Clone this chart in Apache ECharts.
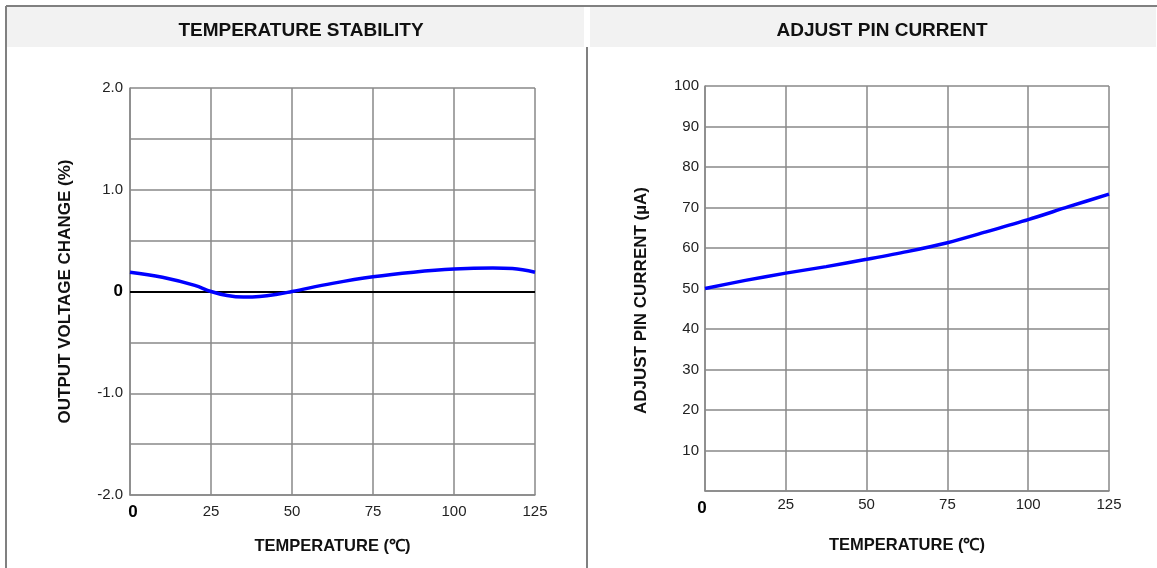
<!DOCTYPE html>
<html>
<head>
<meta charset="utf-8">
<script src="https://cdn.jsdelivr.net/npm/echarts@6/dist/echarts.min.js"></script>
<style>html,body{margin:0;padding:0;background:#fff;}#c{width:1157px;height:568px;}</style>
</head>
<body>
<div id="c"></div>
<script>
// Left: Temperature stability
var tempStabX = [0, 10, 20, 25, 30, 35, 40, 45, 50, 62.5, 75, 87.5, 100, 112, 118, 125];
var tempStabY = [0.19, 0.14, 0.06, 0.0, -0.04, -0.055, -0.05, -0.03, 0.0, 0.08, 0.145, 0.19, 0.22, 0.23, 0.225, 0.19];
// Right: Adjust pin current
var pinX = [0, 12.5, 25, 37.5, 50, 62.5, 75, 87.5, 100, 112.5, 125];
var pinY = [50.0, 52.0, 53.8, 55.4, 57.2, 59.1, 61.3, 64.1, 67.0, 70.2, 73.3];

var leftTitle = 'TEMPERATURE STABILITY';
var rightTitle = 'ADJUST PIN CURRENT';
var xName = 'TEMPERATURE (\u2103)';
var leftYName = 'OUTPUT VOLTAGE CHANGE (%)';
var rightYName = 'ADJUST PIN CURRENT (\u00b5A)';
var leftYTicks = {'2': '2.0', '1': '1.0', '0': '0', '-1': '-1.0', '-2': '-2.0'};

function pairs(xs, ys) { return xs.map(function (x, i) { return [x, ys[i]]; }); }

var FONT = '"Liberation Sans", Arial, sans-serif';
var GRID = '#888888';

var chart = echarts.init(document.getElementById('c'), null, {renderer: 'canvas'});

function xAxisCfg(idx) {
  return {
    type: 'value', gridIndex: idx, min: 0, max: 125, interval: 25,
    name: xName, nameLocation: 'middle', nameGap: idx === 0 ? 43 : 46,
    nameTextStyle: {fontFamily: FONT, fontSize: 16.5, fontWeight: 'bold', color: '#111'},
    axisLine: {show: true, onZero: false, lineStyle: {color: GRID, width: 1.5}},
    axisTick: {show: false},
    splitLine: {show: true, lineStyle: {color: GRID, width: 1.5}},
    axisLabel: {
      margin: idx === 0 ? 9 : 6,
      fontFamily: FONT, fontSize: 15, color: '#222',
      formatter: function (v) { return v === 0 ? '{z|0}' : String(v); },
      rich: {z: {fontFamily: FONT, fontSize: 17, fontWeight: 'bold', color: '#000', padding: [idx === 0 ? 0 : 3, 0, 0, idx === 0 ? 6 : -6]}}
    }
  };
}

var option = {
  animation: false,
  backgroundColor: '#ffffff',
  graphic: [
    {type: 'rect', shape: {x: 7, y: 7, width: 577, height: 40}, style: {fill: '#f2f2f2'}, silent: true, z: -10},
    {type: 'rect', shape: {x: 590, y: 7, width: 566, height: 40}, style: {fill: '#f2f2f2'}, silent: true, z: -10},
    {type: 'line', shape: {x1: 6, y1: 6, x2: 1157, y2: 6}, style: {stroke: '#808080', lineWidth: 2}, silent: true},
    {type: 'line', shape: {x1: 6, y1: 6, x2: 6, y2: 568}, style: {stroke: '#808080', lineWidth: 2}, silent: true},
    {type: 'line', shape: {x1: 587, y1: 47, x2: 587, y2: 568}, style: {stroke: '#808080', lineWidth: 2}, silent: true}
  ],
  title: [
    {text: leftTitle, left: 296, top: 16, textAlign: 'center',
     textStyle: {fontFamily: FONT, fontSize: 19, fontWeight: 'bold', color: '#111'}},
    {text: rightTitle, left: 877, top: 16, textAlign: 'center',
     textStyle: {fontFamily: FONT, fontSize: 19, fontWeight: 'bold', color: '#111'}}
  ],
  grid: [
    {left: 130, top: 88, width: 405, height: 407},
    {left: 705, top: 86, width: 404, height: 405}
  ],
  xAxis: [xAxisCfg(0), xAxisCfg(1)],
  yAxis: [
    {
      type: 'value', gridIndex: 0, min: -2, max: 2, interval: 0.5,
      name: leftYName, nameLocation: 'middle', nameGap: 56, nameRotate: 90,
      nameTextStyle: {fontFamily: FONT, fontSize: 17, fontWeight: 'bold', color: '#111'},
      axisLine: {show: true, onZero: false, lineStyle: {color: GRID, width: 1.5}},
      axisTick: {show: false},
      splitLine: {show: true, lineStyle: {color: GRID, width: 1.5}},
      axisLabel: {
        margin: 7, fontFamily: FONT, fontSize: 15, color: '#222',
        formatter: function (v) {
          var k = String(Math.round(v * 10) / 10);
          if (!(k in leftYTicks)) return '';
          return v === 0 ? '{z|0}' : leftYTicks[k];
        },
        rich: {z: {fontFamily: FONT, fontSize: 17, fontWeight: 'bold', color: '#000'}}
      }
    },
    {
      type: 'value', gridIndex: 1, min: 0, max: 100, interval: 10,
      name: rightYName, nameLocation: 'middle', nameGap: 55, nameRotate: 90,
      nameTextStyle: {fontFamily: FONT, fontSize: 17, fontWeight: 'bold', color: '#111', padding: [0, 24, 0, 0]},
      axisLine: {show: true, onZero: false, lineStyle: {color: GRID, width: 1.5}},
      axisTick: {show: false},
      splitLine: {show: true, lineStyle: {color: GRID, width: 1.5}},
      axisLabel: {
        margin: 6, fontFamily: FONT, fontSize: 15, color: '#222',
        formatter: function (v) { return v === 0 ? '' : String(v); }
      }
    }
  ],
  series: [
    {
      type: 'line', xAxisIndex: 0, yAxisIndex: 0, data: pairs(tempStabX, tempStabY),
      smooth: 0.4, showSymbol: false, lineStyle: {color: '#0000ff', width: 3.5}, z: 5,
      markLine: {silent: true, symbol: 'none', label: {show: false},
        lineStyle: {color: '#000', width: 2, type: 'solid'}, data: [{yAxis: 0}], z: 3}
    },
    {
      type: 'line', xAxisIndex: 1, yAxisIndex: 1, data: pairs(pinX, pinY),
      smooth: 0.3, showSymbol: false, lineStyle: {color: '#0000ff', width: 3.5}, z: 5
    }
  ]
};
chart.setOption(option);
</script>
</body>
</html>
